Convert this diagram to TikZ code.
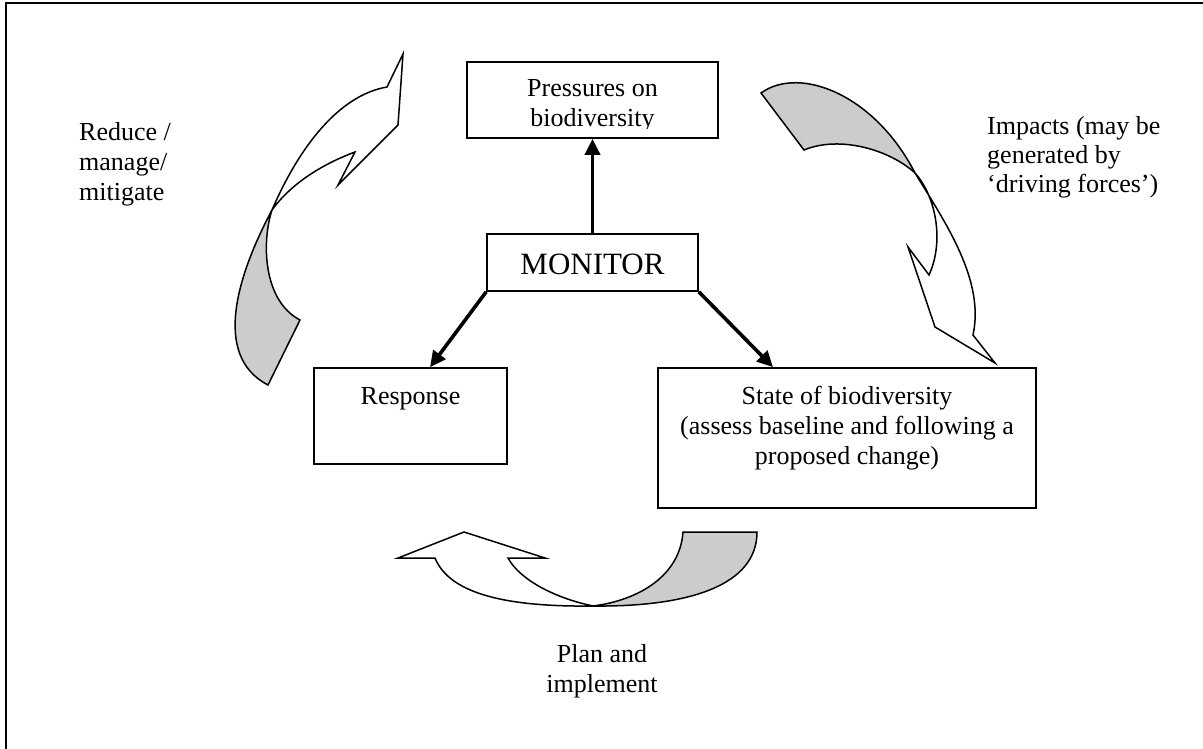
\documentclass[tikz,border=0pt]{standalone}
\usepackage{fontspec}
\setmainfont{Liberation Serif}
\usetikzlibrary{arrows.meta}
\tikzset{
  box/.style={draw=black, line width=1.6pt},
  txt/.style={inner sep=0pt, anchor=base, font=\fontsize{26}{30}\selectfont},
  txtl/.style={inner sep=0pt, anchor=base west, font=\fontsize{26}{30}\selectfont},
  conn/.style={line width=3.6pt, -{Triangle[length=16pt,width=15pt]}},
  ribbon/.style={draw=black, line width=1.5pt, line join=miter},
  shade/.style={fill={rgb,255:red,204;green,204;blue,204}},
}
\begin{document}
\begin{tikzpicture}[x=1pt,y=-1pt]
\useasboundingbox (0,0) rectangle (1203,748);
% frame
\draw[line width=2.2pt] (6,749) -- (6,3) -- (1204,3);

% boxes
\node[box, minimum width=251pt, minimum height=76pt, inner sep=0pt] (press) at (592.5,100) {};
\node[box, minimum width=211pt, minimum height=57pt, inner sep=0pt] (mon) at (592.5,262.5) {};
\node[box, minimum width=193pt, minimum height=96pt, inner sep=0pt] (resp) at (410.5,416) {};
\node[box, minimum width=378pt, minimum height=140pt, inner sep=0pt] (state) at (847,438) {};

% texts
\begin{scope}
\clip (467,62) rectangle (718,128.5);
\node[txt] (pt1) at (592.5,96) {Pressures on};
\node[txt] (pt2) at (592.5,126) {biodiversity};
\end{scope}
\node[txt, font=\fontsize{31}{36}\selectfont] (mt) at (592.5,274) {MONITOR};
\node[txt] (rt) at (410.5,404) {Response};
\node[txt] (st1) at (847,404) {State of biodiversity};
\node[txt] (st2) at (847,434) {(assess baseline and following a};
\node[txt] (st3) at (847,464) {proposed change)};
\node[txtl] (r1) at (79,140) {Reduce /};
\node[txtl] (r2) at (79,170) {manage/};
\node[txtl] (r3) at (79,200) {mitigate};
\node[txtl] (i1) at (987,134) {Impacts (may be};
\node[txtl] (i2) at (987,163) {generated by};
\node[txtl] (i3) at (987,192) {‘driving forces’)};
\node[txt] (p1) at (602,662) {Plan and};
\node[txt] (p2) at (602,692) {implement};

% connectors
\draw[conn] (mon.north) -- (press.south);
\draw[conn] (mon.south west) -- (resp.north -| 430,0);
\draw[conn] (mon.south east) -- (state.north -| 773,0);

% top-left ribbon arrow
\coordinate (LX) at (272,210);
\path[ribbon, fill=white]
  (LX) .. controls (300,145) and (340,95) .. (387,87)
  -- (403,54) -- (398,125) -- (338,185) -- (355,152)
  .. controls (320,165) and (290,185) .. (LX) -- cycle;
\path[ribbon, shade]
  (LX) .. controls (240,270) and (210,355) .. (268,385)
  -- (300,320)
  .. controls (262,300) and (262,240) .. (LX) -- cycle;

% right ribbon arrow
\coordinate (RX) at (915,173);
\path[ribbon, shade]
  (761,93) .. controls (800,65) and (875,95) .. (RX)
  .. controls (890,150) and (840,135) .. (804,150) -- cycle;
\path[ribbon, fill=white]
  (RX) .. controls (945,222) and (985,280) .. (973,335)
  -- (995,363) -- (935,327) -- (908,247) -- (929,275)
  .. controls (945,240) and (935,195) .. (RX) -- cycle;

% bottom ribbon arrow
\coordinate (BX) at (593,606);
\path[ribbon, shade]
  (757,532) .. controls (757,585) and (690,607) .. (BX)
  .. controls (640,600) and (680,575) .. (683,532) -- cycle;
\path[ribbon, fill=white]
  (BX) .. controls (510,607) and (450,595) .. (435,558)
  -- (398,558) -- (464,532) -- (545,558) -- (508,558)
  .. controls (520,580) and (555,598) .. (BX) -- cycle;
\end{tikzpicture}
\end{document}
